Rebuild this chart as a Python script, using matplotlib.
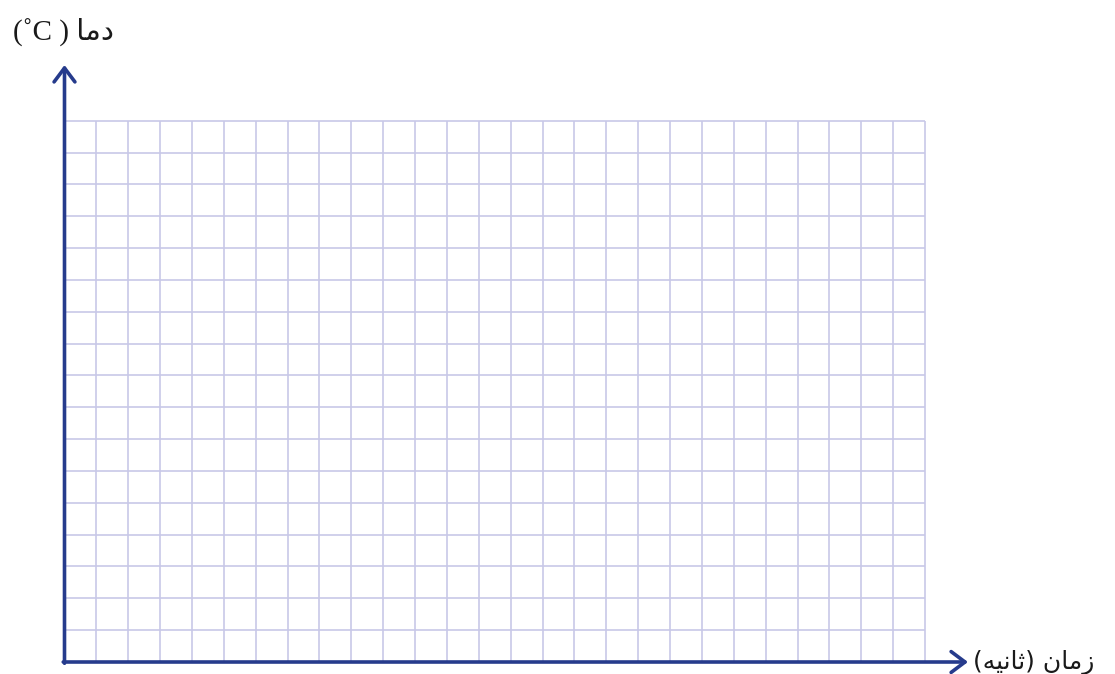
import numpy as np
import matplotlib.pyplot as plt

# blank temperature / time worksheet grid
n_cols = 27
n_rows = 17
x_arrow_end = 28.35
y_arrow_end = 18.75

# Persian labels, written in visual order with presentation forms
y_label = "(\u02daC ) " + "\uFE8E\uFEE3\uFEA9"          # دما ( ˚C )
x_label = "(" + "\uFEEA\uFEF4\uFEE7\uFE8E\uFE9B" + ") " + "\uFEE5\uFE8E\uFEE3\uFEAF"  # زمان (ثانیه)

axis_color = "#263B8C"
grid_color = "#C8C8E8"

W, H = 1115, 674
ox, oy = 64.5, 662.0
cell_w, cell_h = 31.87, 31.84

fig = plt.figure(figsize=(W / 100, H / 100), dpi=100)
ax = fig.add_axes([0, 0, 1, 1])
ax.set_xlim(-ox / cell_w, (W - ox) / cell_w)
ax.set_ylim(-(H - oy) / cell_h, oy / cell_h)
ax.axis("off")

cols = np.arange(1, n_cols + 1)
rows = np.arange(1, n_rows + 1)
ax.vlines(cols, 0, n_rows, color=grid_color, lw=1.2, zorder=1)
ax.hlines(rows, 0, n_cols, color=grid_color, lw=1.2, zorder=1)

arrow = dict(arrowstyle="->,head_length=1.0,head_width=0.75", lw=2.6,
             color=axis_color, shrinkA=0, shrinkB=0)
ax.annotate("", xy=(x_arrow_end, 0), xytext=(-0.04, 0), arrowprops=arrow, zorder=3)
ax.annotate("", xy=(0, y_arrow_end), xytext=(0, -0.04), arrowprops=arrow, zorder=3)

ax.text(-1.62, 19.8, y_label, fontsize=21, ha="left", va="center",
        family=["Liberation Serif", "DejaVu Sans"], color="#1a1a1a")
ax.text(28.5, -0.02, x_label, fontsize=18, ha="left", va="center",
        family="DejaVu Sans", color="#1a1a1a")

fig.savefig("out.png", dpi=100)
